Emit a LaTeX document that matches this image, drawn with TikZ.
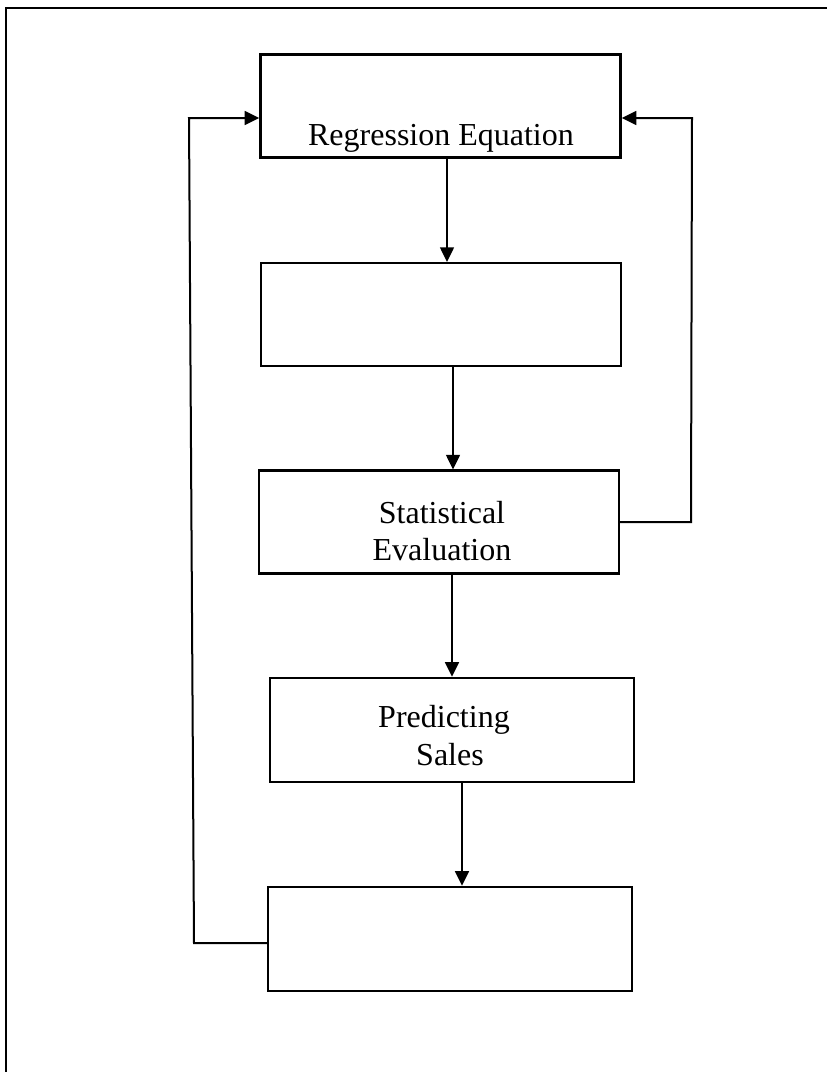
\documentclass[tikz,border=0pt]{standalone}
\usepackage{fontspec}
\setmainfont{Liberation Serif}
\usepackage{tikz}
\usetikzlibrary{arrows.meta,positioning,calc}

\begin{document}
\begin{tikzpicture}[
  x=0.375pt, y=-0.375pt,
  every node/.style={font=\fontsize{12}{14}\selectfont},
  stage/.style={rectangle,draw,line width=0.9pt,inner sep=0pt,minimum width=135pt,minimum height=38.5pt},
  txt/.style={anchor=base,inner sep=0pt},
  flow/.style={draw,line width=0.75pt,-{Triangle[length=5.5pt,width=5.2pt]}},
  frame/.style={draw,line width=1.1pt},
]
\useasboundingbox (0,0) rectangle (827,1072);
\draw[frame] (6,1072) -- (6,8) -- (827,8);

% stages
\node[stage] (reg)  at (440.5,106) {};
\node[stage] (blank1) at (441,314.5) {};
\node[stage] (stat) at (439,522) {};
\node[stage,minimum width=136.5pt,minimum height=39pt] (pred) at (452,730) {};
\node[stage,minimum width=136.5pt,minimum height=39pt] (blank2) at (450,939) {};

\node[txt] (regT)   at (441,145) {Regression Equation};
\node[txt] (statT)  at (442,523) {Statistical};
\node[txt] (statB)  at (442,560) {Evaluation};
\node[txt] (predT)  at (444,727) {Predicting};
\node[txt] (predB)  at (450,765) {Sales};

% main flow
\draw[flow] (reg.south -| 447,0) -- (blank1.north -| 447,0);
\draw[flow] (blank1.south -| 453,0) -- (stat.north -| 453,0);
\draw[flow] (stat.south -| 452,0) -- (pred.north -| 452,0);
\draw[flow] (pred.south -| 462,0) -- (blank2.north -| 462,0);

% feedback loops
\draw[flow] ($(stat.east)+(-2,0)$) -- (691,522) -- (692,118) -- ($(reg.east)+(0,12)$);
\draw[flow] ($(blank2.west)+(0,4)$) -- (194,943) -- (189,118) -- ($(reg.west)+(0,12)$);
\end{tikzpicture}
\end{document}
